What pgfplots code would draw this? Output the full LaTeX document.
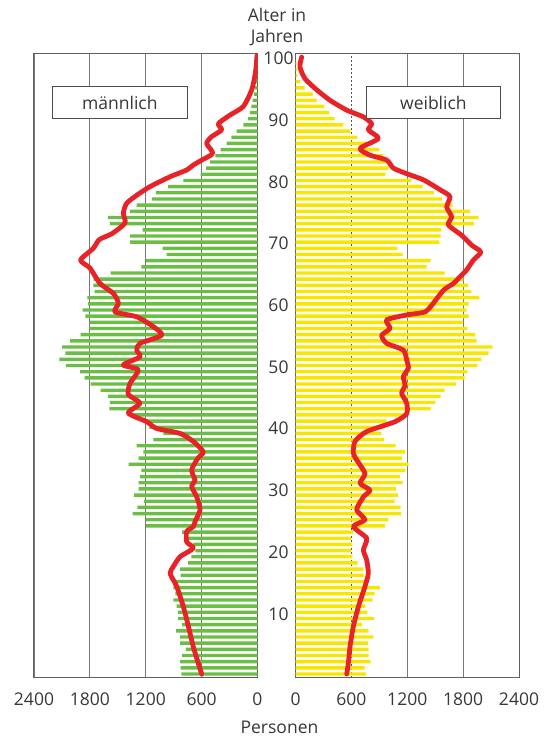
\documentclass[border=0pt]{standalone}
\usepackage{pgfplots}
\pgfplotsset{compat=1.18}
\usepackage{fontspec}
\setmainfont{Open Sans}
\definecolor{mgreen}{RGB}{106,190,68}
\definecolor{fyellow}{RGB}{247,230,0}
\definecolor{lred}{RGB}{232,35,40}
\definecolor{txt}{RGB}{55,55,55}
\definecolor{gridc}{RGB}{120,120,120}
\begin{document}
\begin{tikzpicture}
\path[use as bounding box] (0,0) rectangle (551pt,738pt);
\pgfplotsset{
  pyr/.style={
    scale only axis, width=223.5pt, height=624pt, anchor=south west,
    xmin=0, xmax=2400, ymin=-0.65, ymax=100.5,
    major tick length=0pt,
    axis line style={draw=gridc!80!black, line width=1pt},
    grid style={draw=gridc, line width=0.9pt},
    tick label style={font=\fontsize{17.5}{21}\selectfont, text=txt},
    /pgf/number format/assume math mode=true,
    /pgf/number format/1000 sep={},
    xticklabel style={yshift=-11pt},
  }
}
% male
\begin{axis}[pyr, at={(34pt,60pt)}, x dir=reverse,
  xtick={0,600,1200,1800,2400}, xmajorgrids, ytick=\empty]
\addplot[xbar, bar width=3.4pt, bar shift=0pt, fill=mgreen, draw=none] coordinates {
(818,0) (825,1) (832,2) (810,3) (768,4) (832,5) (832,6) (875,7) (810,8) (853,9) (853,10) (868,11) (904,12) (882,13) (904,14) (904,15) (825,16) (832,17) (746,18) (710,19) (667,20) (689,21) (768,22) (810,23) (1197,24) (1197,25) (1340,26) (1290,27) (1219,28) (1326,29) (1276,30) (1276,31) (1262,32) (1247,33) (1383,34) (1276,35) (1226,36) (1297,37) (1118,38) (1011,39) (1160,40) (1190,41) (1369,42) (1591,43) (1584,44) (1605,45) (1684,46) (1791,47) (1856,48) (1906,49) (2056,50) (2128,51) (2064,52) (2099,53) (2013,54) (1899,55) (1806,56) (1799,57) (1849,58) (1877,59) (1820,60) (1827,61) (1749,62) (1763,63) (1760,64) (1577,65) (1248,66) (1198,67) (975,68) (1018,69) (1369,70) (1369,71) (1233,72) (1584,73) (1606,74) (1369,75) (1297,76) (1133,77) (1090,78) (961,79) (797,80) (610,81) (553,82) (510,83) (453,84) (395,85) (331,86) (281,87) (224,88) (152,89) (102,90) (81,91) (66,92) (52,93) (37,94) (25,95) (15,96) (10,97) (5,98) (3,99)};
\addplot[lred, line width=4.8pt, line join=round, line cap=round, smooth, tension=0.4] coordinates {
(599,0) (635,1.7) (689,4.4) (742,7.7) (796,10.9) (868,14.2) (939,16.3) (904,17.4) (832,19.0) (689,20.4) (760,21.4) (760,23.1) (689,23.9) (671,24.7) (617,26.6) (653,28.7) (707,30.4) (671,31.4) (707,33.1) (639,35.0) (582,36.0) (690,37.7) (832,39.0) (1083,39.8) (1190,40.9) (1387,42.3) (1262,43.9) (1387,45.3) (1369,47.1) (1280,49.3) (1441,50.1) (1262,51.4) (1297,52.5) (1262,53.6) (1029,54.9) (1118,56.3) (1297,57.9) (1530,58.7) (1494,60.1) (1548,61.7) (1691,63.3) (1799,65.8) (1900,67.1) (1763,69.0) (1700,70.4) (1560,71.4) (1423,73.1) (1441,74.7) (1405,76.3) (1297,77.6) (1154,79.0) (939,80.6) (760,81.7) (689,82.5) (599,83.3) (481,84.4) (546,86.0) (492,87.1) (385,88.2) (420,89.2) (295,90.6) (152,92.0) (62,94.7) (23,97.4) (5,100.3)};
\end{axis}
% female
\begin{axis}[pyr, at={(295.5pt,60pt)},
  xtick={0,1200,1800,2400}, xmajorgrids,
  extra x ticks={600}, extra x tick style={major grid style={draw=gridc!70!black, line width=0.9pt, dash pattern=on 2pt off 2pt}},
  ytick={10,20,...,100}, yticklabel style={anchor=center, xshift=-17pt, yshift=-1.5pt}]
\addplot[xbar, bar width=3.4pt, bar shift=0pt, fill=fyellow, draw=none] coordinates {
(757,0) (743,1) (807,2) (786,3) (786,4) (779,5) (836,6) (786,7) (714,8) (843,9) (772,10) (750,11) (829,12) (850,13) (908,14) (743,15) (736,16) (728,17) (668,18) (610,19) (596,20) (610,21) (596,22) (620,23) (961,24) (997,25) (1133,26) (1130,27) (1065,28) (1101,29) (1079,30) (1151,31) (1122,32) (1180,33) (1215,34) (1144,35) (1176,36) (1076,37) (951,38) (922,39) (932,40) (979,41) (1194,42) (1452,43) (1502,44) (1559,45) (1602,46) (1724,47) (1817,48) (1846,49) (1953,50) (1996,51) (2075,52) (2118,53) (1946,54) (1931,55) (1846,56) (1795,57) (1860,58) (1838,59) (1860,60) (1974,61) (1888,62) (1853,63) (1803,64) (1602,65) (1409,66) (1452,67) (1151,68) (1094,69) (1545,70) (1559,71) (1566,72) (1917,73) (1967,74) (1874,75) (1688,76) (1573,77) (1487,78) (1366,79) (1244,80) (965,81) (1001,82) (979,83) (943,84) (900,85) (771,86) (664,87) (592,88) (514,89) (421,90) (363,91) (306,92) (227,93) (184,94) (98,95) (48,96) (20,97) (20,98) (12,99)};
\addplot[lred, line width=4.8pt, line join=round, line cap=round, smooth, tension=0.4] coordinates {
(550,0) (567,1.7) (585,4.4) (621,7.7) (675,10.9) (746,14.2) (782,16.3) (764,18.5) (729,20.1) (764,22.0) (621,23.9) (746,25.0) (657,26.6) (729,28.7) (800,29.8) (693,30.9) (746,32.5) (657,34.7) (621,35.8) (639,37.7) (764,39.3) (1069,40.9) (1194,42.2) (1194,43.9) (1140,45.5) (1176,46.8) (1158,48.2) (1212,49.6) (1194,50.9) (1158,52.5) (979,53.6) (925,54.9) (1015,56.0) (979,57.4) (1194,58.2) (1391,58.7) (1480,60.1) (1588,62.2) (1695,63.3) (1767,64.4) (1838,65.5) (1910,67.1) (1990,68.4) (1892,69.5) (1785,71.1) (1641,72.8) (1677,74.1) (1624,75.7) (1659,77.4) (1552,78.5) (1373,80.1) (1194,81.1) (1051,82.0) (979,83.3) (800,84.1) (693,85.2) (890,86.8) (782,88.2) (818,89.2) (729,90.3) (550,91.4) (370,93.0) (227,94.7) (102,96.5) (48,98.4) (66,100.0)};
\end{axis}
% legend boxes
\draw[draw=black!70, line width=0.9pt, fill=white] (52.3pt,619.3pt) rectangle (187.3pt,651.3pt);
\node[text=txt, font=\fontsize{17.5}{21}\selectfont] at (119.8pt,635.3pt) {männlich};
\draw[draw=black!70, line width=0.9pt, fill=white] (366pt,619.3pt) rectangle (500.7pt,651.3pt);
\node[text=txt, font=\fontsize{17.5}{21}\selectfont] at (433.4pt,635.3pt) {weiblich};
% titles
\node[text=txt, font=\fontsize{17.5}{21}\selectfont, align=center] at (277pt,711pt) {Alter in\\Jahren};
\node[text=txt, font=\fontsize{17.5}{21}\selectfont] at (279.5pt,11pt) {Personen};
\end{tikzpicture}
\end{document}
